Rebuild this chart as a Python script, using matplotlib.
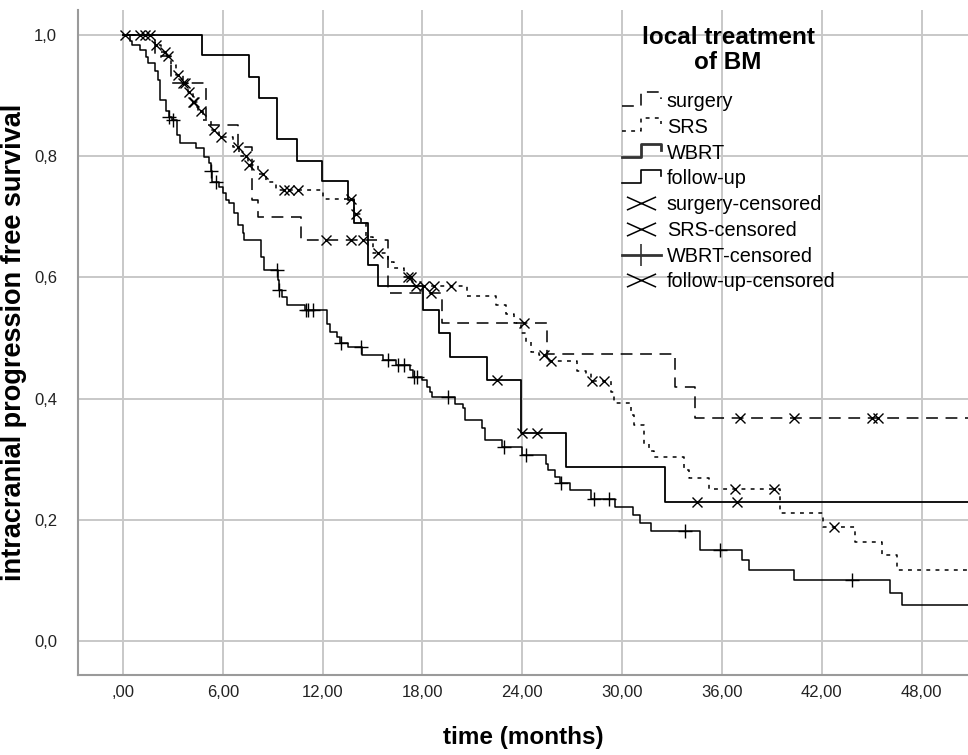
import matplotlib
matplotlib.use('Agg')
import matplotlib.pyplot as plt
import numpy as np
from matplotlib.lines import Line2D
from matplotlib.path import Path
from matplotlib.legend_handler import HandlerBase
from matplotlib.ticker import FuncFormatter

plt.rcParams['font.family'] = ['Liberation Sans', 'DejaVu Sans']
plt.rcParams['lines.scale_dashes'] = False

# Kaplan-Meier step estimates (months, survival)
T_END = 51.5

surgery_t = [0, 1.9, 2.9, 5.0, 6.9, 7.73, 8.13, 10.7, 15.95, 19.15, 25.5, 33.2, 34.4]
surgery_s = [1.0, 0.965, 0.92, 0.851, 0.815, 0.727, 0.700, 0.661, 0.574, 0.525, 0.474, 0.42, 0.368]
surgery_cens = [1.0, 12.2, 13.7, 14.4, 18.5, 24.1, 37.1, 40.3, 45.0, 45.4]

srs_t = [0, 1.9, 2.3, 2.6, 2.9, 3.2, 3.6, 3.9, 4.2, 4.5, 4.8, 5.3, 5.8, 6.6, 7.0,
         7.5, 8.1, 8.6, 9.2, 12.0, 13.9, 14.3, 14.6, 15.0, 15.9, 16.3, 16.9, 17.4,
         20.7, 22.4, 23.0, 23.5, 23.9, 24.2, 24.5, 25.0, 25.5, 27.3, 27.8, 28.1,
         29.3, 29.5, 30.5, 30.7, 31.3, 31.6, 31.9, 33.7, 34.0, 35.2, 39.5, 42.05,
         44.0, 45.6, 46.5]
srs_s = [1.0, 0.983, 0.972, 0.965, 0.95, 0.934, 0.92, 0.905, 0.89, 0.875, 0.86, 0.843,
         0.832, 0.815, 0.80, 0.785, 0.77, 0.757, 0.745, 0.729, 0.705, 0.69, 0.666,
         0.64, 0.626, 0.615, 0.601, 0.586, 0.57, 0.555, 0.54, 0.525, 0.508, 0.494,
         0.477, 0.472, 0.463, 0.446, 0.442, 0.430, 0.411, 0.393, 0.373, 0.357,
         0.326, 0.313, 0.304, 0.282, 0.269, 0.251, 0.211, 0.188, 0.164, 0.142, 0.118]
srs_cens = [0.1, 1.3, 1.6, 2.0, 2.5, 2.7, 3.3, 3.6, 3.7, 4.0, 4.2, 4.3, 4.7, 5.5,
            5.9, 6.9, 7.4, 7.6, 8.4, 9.7, 10.0, 10.5, 13.7, 14.0, 15.3, 17.1, 17.3,
            17.6, 18.1, 18.7, 19.7, 25.3, 25.7, 28.2, 28.9, 36.8, 39.1, 42.7]

wbrt_t = [0, 0.45, 0.55, 1.05, 1.4, 1.5, 1.9, 2.1, 2.2, 2.25, 2.6, 2.75, 2.95, 3.25,
          3.4, 4.4, 4.9, 5.2, 5.3, 5.35, 5.8, 6.0, 6.2, 6.4, 6.7, 6.93, 7.2, 7.25,
          8.3, 8.5, 9.3, 9.4, 9.55, 9.85, 10.95, 12.25, 12.45, 12.85, 13.05, 13.55,
          14.35, 15.6, 16.4, 17.25, 17.45, 17.95, 18.25, 18.45, 18.55, 19.95, 20.45,
          20.55, 21.55, 21.75, 22.75, 23.95, 25.45, 25.55, 25.95, 26.25, 26.85, 28.15,
          29.55, 30.65, 31.05, 31.75, 34.65, 37.2, 37.6, 40.3, 46.1, 46.8]
wbrt_s = [1.0, 0.99, 0.983, 0.975, 0.964, 0.953, 0.94, 0.925, 0.914, 0.893, 0.875,
          0.865, 0.859, 0.835, 0.821, 0.813, 0.799, 0.788, 0.775, 0.758, 0.749, 0.739,
          0.727, 0.722, 0.706, 0.686, 0.673, 0.662, 0.634, 0.612, 0.596, 0.580, 0.568,
          0.554, 0.546, 0.524, 0.510, 0.502, 0.492, 0.486, 0.472, 0.464, 0.456, 0.447,
          0.436, 0.431, 0.420, 0.411, 0.403, 0.392, 0.384, 0.365, 0.351, 0.332, 0.321,
          0.307, 0.293, 0.282, 0.271, 0.261, 0.249, 0.235, 0.222, 0.208, 0.195, 0.182,
          0.151, 0.134, 0.118, 0.101, 0.080, 0.060]
wbrt_cens = [2.75, 3.0, 5.3, 5.6, 9.25, 9.4, 11.0, 11.1, 11.4, 13.1, 14.3, 15.9, 16.5,
             16.9, 17.5, 17.7, 19.55, 22.9, 24.2, 26.3, 28.3, 29.2, 33.8, 35.9, 43.8]

fu_t = [0, 4.73, 7.59, 8.19, 9.27, 10.45, 11.94, 13.55, 13.88, 14.7, 15.35, 18.05,
        19.0, 19.65, 21.9, 23.9, 26.6, 32.6]
fu_s = [1.0, 0.967, 0.931, 0.896, 0.828, 0.792, 0.759, 0.727, 0.690, 0.620, 0.586,
        0.547, 0.509, 0.469, 0.431, 0.344, 0.287, 0.229]
fu_cens = [22.5, 24.0, 24.9, 34.5, 36.9]

labels = ['surgery', 'SRS', 'WBRT', 'follow-up',
          'surgery-censored', 'SRS-censored', 'WBRT-censored', 'follow-up-censored']


def surv_at(t, s, x):
    idx = np.searchsorted(t, x, side='right') - 1
    return np.asarray(s)[idx]


class StepHandler(HandlerBase):
    # the small step shape SPSS uses for the curve entries
    def create_artists(self, legend, orig_handle, xdescent, ydescent,
                       width, height, fontsize, trans):
        x0 = -xdescent
        y0 = -ydescent
        xs = [x0, x0 + 0.5 * width, x0 + 0.5 * width, x0 + width, x0 + width]
        ys = [y0 + 0.1 * height, y0 + 0.1 * height, y0 + 1.05 * height,
              y0 + 1.05 * height, y0 + 0.6 * height]
        line = Line2D(xs, ys)
        line.update_from(orig_handle)
        line.set_transform(trans)
        return [line]


# flattened X like the SPSS censor symbol in the legend
wide_x = Path([(-1, -0.45), (1, 0.45), (-1, 0.45), (1, -0.45)],
              [Path.MOVETO, Path.LINETO, Path.MOVETO, Path.LINETO])

fig = plt.figure(figsize=(9.68, 7.55), dpi=100)
ax = fig.add_axes([78 / 968., 80 / 755., 1 - 78 / 968., 665 / 755.])

curves = [
    (surgery_t, surgery_s, surgery_cens, dict(lw=1.1, dashes=(8.5, 5.5)), 'x', 7),
    (srs_t, srs_s, srs_cens, dict(lw=1.1, dashes=(2.8, 3.8)), 'x', 7),
    (wbrt_t, wbrt_s, wbrt_cens, dict(lw=1.1, ls='-'), '+', 10),
    (fu_t, fu_s, fu_cens, dict(lw=1.3, ls='-'), 'x', 7),
]

for t, s, cens, style, mk, ms in curves:
    tt = list(t) + [T_END]
    ss = list(s) + [s[-1]]
    ax.step(tt, ss, where='post', color='black', **style)
    cy = surv_at(t, s, cens)
    ax.plot(cens, cy, ls='none', marker=mk, ms=ms, mew=1.0, color='black')

leg_lines = [Line2D([], [], color='black', lw=1.1, dashes=(8.5, 5.5)),
             Line2D([], [], color='black', lw=1.1, dashes=(2.8, 3.8)),
             Line2D([], [], color='#333333', lw=2.0, ls='-'),
             Line2D([], [], color='black', lw=1.2, ls='-')]
leg_marks = [Line2D([], [], ls='none', marker=wide_x, ms=21, mew=1.1, color='black'),
             Line2D([], [], ls='none', marker=wide_x, ms=21, mew=1.1, color='black'),
             Line2D([0], [0], ls='-', marker='|', ms=16, mew=1.2, lw=2.0, color='#333333'),
             Line2D([], [], ls='none', marker=wide_x, ms=21, mew=1.1, color='black')]

hmap = {h: StepHandler() for h in leg_lines}
leg = ax.legend(leg_lines + leg_marks, labels, handler_map=hmap,
                loc='upper left', frameon=False, fontsize=14.3,
                handlelength=1.95, handleheight=0.7, handletextpad=0.3,
                labelspacing=0.34, borderpad=0, borderaxespad=0)
leg.set_bbox_to_anchor((622 / 968., (755 - 92) / 755.), transform=fig.transFigure)

fig.text(728 / 968., (755 - 50) / 755., 'local treatment\nof BM', ha='center',
         va='center', fontsize=17.5, fontweight='bold', linespacing=1.1)

ax.set_xlim(-2.7, 50.78)
ax.set_ylim(-0.0556, 1.041)
ax.set_xticks(np.arange(0, 49, 6))
ax.set_yticks(np.arange(0, 1.01, 0.2))
ax.xaxis.set_major_formatter(FuncFormatter(
    lambda v, p: (',00' if v == 0 else ('%.2f' % v).replace('.', ','))))
ax.yaxis.set_major_formatter(FuncFormatter(lambda v, p: ('%.1f' % v).replace('.', ',')))
ax.tick_params(length=0, labelsize=12, colors='#222222')
ax.tick_params(axis='y', pad=15)
ax.tick_params(axis='x', pad=7)

ax.grid(True, color='#c8c8c8', lw=1.4)
ax.set_axisbelow(True)
for side in ['top', 'right']:
    ax.spines[side].set_visible(False)
for side in ['left', 'bottom']:
    ax.spines[side].set_color('#9a9a9a')
    ax.spines[side].set_linewidth(1.5)

ax.set_xlabel('time (months)', fontsize=17.5, fontweight='bold', labelpad=19)
ax.set_ylabel('intracranial progression free survival', fontsize=19.5,
              fontweight='bold', labelpad=5)

plt.savefig('out.png', dpi=100)
